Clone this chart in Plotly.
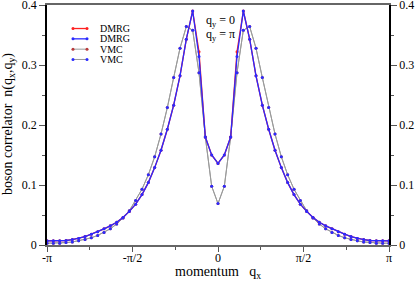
import numpy as np
import plotly.graph_objects as go

# momentum grid index n, q_x = 2*pi*n/L
L = 54
n_index = list(range(-27, 28))
qx = [2 * np.pi * n / L for n in n_index]

dmrg_qy0 = [0.007, 0.007, 0.007, 0.0075, 0.009, 0.011, 0.014, 0.018, 0.022, 0.027, 0.032, 0.038, 0.046,
            0.056, 0.068, 0.084, 0.104, 0.129, 0.158, 0.193, 0.233, 0.282, 0.343, 0.390, 0.322, 0.180, 0.150,
            0.136,
            0.150, 0.180, 0.322, 0.390, 0.343, 0.282, 0.233, 0.193, 0.158, 0.129, 0.104, 0.084, 0.068,
            0.056, 0.046, 0.038, 0.032, 0.027, 0.022, 0.018, 0.014, 0.011, 0.009, 0.0075, 0.007, 0.007, 0.007]

dmrg_qypi = [0.007, 0.007, 0.007, 0.0075, 0.009, 0.011, 0.014, 0.018, 0.022, 0.027, 0.032, 0.038, 0.046,
             0.056, 0.068, 0.084, 0.104, 0.129, 0.158, 0.193, 0.233, 0.282, 0.343, 0.390, 0.314, 0.180, 0.150,
             0.136,
             0.150, 0.180, 0.314, 0.390, 0.343, 0.282, 0.233, 0.193, 0.158, 0.129, 0.104, 0.084, 0.068,
             0.056, 0.046, 0.038, 0.032, 0.027, 0.022, 0.018, 0.014, 0.011, 0.009, 0.0075, 0.007, 0.007, 0.007]

vmc_qy0 = [0.003, 0.003, 0.003, 0.004, 0.005, 0.007, 0.009, 0.012, 0.016, 0.021, 0.027, 0.035, 0.045,
           0.057, 0.074, 0.093, 0.117, 0.147, 0.185, 0.229, 0.279, 0.328, 0.364, 0.358, 0.287, 0.180, 0.098,
           0.069,
           0.098, 0.180, 0.287, 0.358, 0.364, 0.328, 0.279, 0.229, 0.185, 0.147, 0.117, 0.093, 0.074,
           0.057, 0.045, 0.035, 0.027, 0.021, 0.016, 0.012, 0.009, 0.007, 0.005, 0.004, 0.003, 0.003, 0.003]

vmc_qypi = list(vmc_qy0)

x_tickvals = [-np.pi, -np.pi / 2, 0, np.pi / 2, np.pi]
x_ticktext = ["-π", "-π/2", "0", "π/2", "π"]
x_minor = [-3 * np.pi / 4, -np.pi / 4, np.pi / 4, 3 * np.pi / 4]

legend_names = ["DMRG", "DMRG", "VMC", "VMC"]

FONT = "Liberation Serif"
RED = "#ff2020"
BLUE = "#2a2aff"
GRAY = "#9a9a9a"
DRED = "#b83a3a"

fig = go.Figure()

series = [
    (vmc_qy0, GRAY, 1, DRED),
    (vmc_qypi, GRAY, 1, BLUE),
    (dmrg_qy0, RED, 1.3, RED),
    (dmrg_qypi, BLUE, 1.3, BLUE),
]
for ys, lc, lw, mc in series:
    fig.add_trace(go.Scatter(x=qx, y=ys, mode="lines+markers",
                             line=dict(color=lc, width=lw),
                             marker=dict(color=mc, size=3, symbol="circle"),
                             showlegend=False, hoverinfo="skip"))

# dummy trace for right axis
fig.add_trace(go.Scatter(x=[None], y=[None], yaxis="y2", showlegend=False))

# manual legend on hidden overlay axes (fraction coordinates)
leg_rows = [0.902, 0.859, 0.816, 0.773]
leg_styles = [(RED, 1.3, RED), (BLUE, 1.3, BLUE), (GRAY, 1, DRED), (GRAY, 1, BLUE)]
for row, (lc, lw, mc), name in zip(leg_rows, leg_styles, legend_names):
    fig.add_trace(go.Scatter(x=[0.076, 0.117], y=[row, row], xaxis="x3", yaxis="y3",
                             mode="lines+markers", line=dict(color=lc, width=lw),
                             marker=dict(color=mc, size=3),
                             showlegend=False, hoverinfo="skip"))
    fig.add_annotation(x=0.148, y=row, xref="paper", yref="paper", text=name,
                       showarrow=False, xanchor="left", yanchor="middle",
                       font=dict(family=FONT, size=10, color="black"))

fig.add_annotation(x=0.459, y=0.933, xref="paper", yref="paper", text="q<sub>y</sub> = 0",
                   showarrow=False, xanchor="left", yanchor="middle",
                   font=dict(family=FONT, size=12, color="black"))
fig.add_annotation(x=0.459, y=0.874, xref="paper", yref="paper", text="q<sub>y</sub> = π",
                   showarrow=False, xanchor="left", yanchor="middle",
                   font=dict(family=FONT, size=12, color="black"))

fig.add_annotation(x=-0.114, y=0.504, xref="paper", yref="paper",
                   text="boson correlator  n(q<sub>x</sub>,q<sub>y</sub>)",
                   textangle=-90, showarrow=False, xanchor="center", yanchor="middle",
                   font=dict(family=FONT, size=14, color="black"))
fig.add_annotation(x=0.5, y=-0.113, xref="paper", yref="paper",
                   text="momentum   q<sub>x</sub>",
                   showarrow=False, xanchor="center", yanchor="middle",
                   font=dict(family=FONT, size=14, color="black"))

tickfont = dict(family=FONT, size=12, color="black")

fig.update_layout(
    width=415, height=282,
    margin=dict(l=47, r=26, t=5, b=37, autoexpand=False),
    paper_bgcolor="white", plot_bgcolor="white",
    xaxis=dict(range=[-np.pi, np.pi], tickvals=x_tickvals, ticktext=x_ticktext,
               ticks="outside", ticklen=5, tickwidth=1, tickcolor="#555",
               minor=dict(tickvals=x_minor, ticks="outside", ticklen=3, tickcolor="#555"),
               showline=True, linecolor="#666", linewidth=2, mirror=True,
               showgrid=False, zeroline=False, tickfont=tickfont, automargin=False,
               ticklabelstandoff=-4),
    yaxis=dict(range=[0, 0.4], tickvals=[0, 0.1, 0.2, 0.3, 0.4],
               ticktext=["0", "0.1", "0.2", "0.3", "0.4"],
               ticks="outside", ticklen=6, tickwidth=1, tickcolor="#555",
               minor=dict(dtick=0.05, ticks="outside", ticklen=3, tickcolor="#555"),
               showline=True, linecolor="black", linewidth=1.5,
               showgrid=False, zeroline=False, tickfont=tickfont, automargin=False,
               ticklabeloverflow="allow"),
    yaxis2=dict(range=[0, 0.4], overlaying="y", side="right", anchor="x",
                tickvals=[0, 0.1, 0.2, 0.3, 0.4],
                ticktext=["0", "0.1", "0.2", "0.3", "0.4"],
                ticks="outside", ticklen=6, tickwidth=1, tickcolor="#555",
                minor=dict(dtick=0.05, ticks="outside", ticklen=3, tickcolor="#555"),
                showline=True, linecolor="black", linewidth=1.5,
                showgrid=False, zeroline=False, tickfont=tickfont, automargin=False,
                ticklabeloverflow="allow"),
    xaxis3=dict(range=[0, 1], overlaying="x", visible=False),
    yaxis3=dict(range=[0, 1], overlaying="y", visible=False, anchor="x3"),
)

fig.write_html("out.html", config={"displayModeBar": False},
               post_script="document.body.style.margin='0px';document.body.style.overflow='hidden';")
